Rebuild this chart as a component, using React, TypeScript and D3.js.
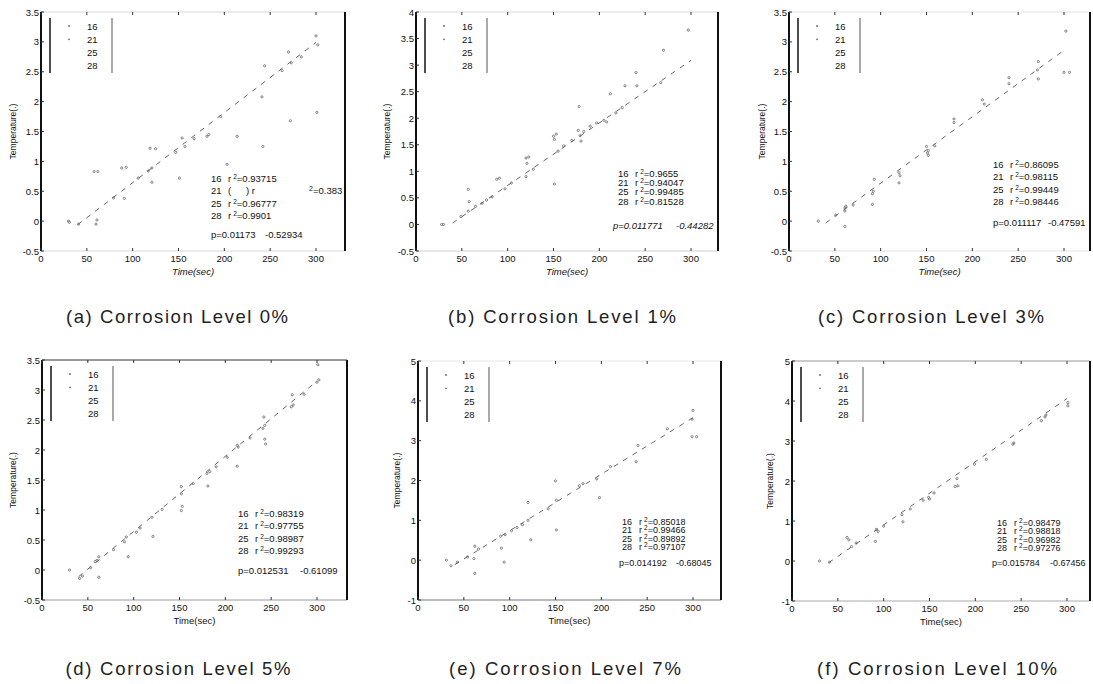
import React from "react";
import * as d3 from "d3";

// ---------------- DATA ----------------
const timeTicks = [0, 50, 100, 150, 200, 250, 300];
const captions = [
  "(a) Corrosion Level 0%",
  "(b) Corrosion Level 1%",
  "(c) Corrosion Level 3%",
  "(d) Corrosion Level 5%",
  "(e) Corrosion Level 7%",
  "(f) Corrosion Level 10%",
];
const xLabels = ["Time(sec)", "Time(sec)", "Time(sec)", "Time(sec)", "Time(sec)", "Time(sec)"];
const yLabel = "Temperature(.)";
const yMins = [-0.5, -0.5, -0.5, -0.5, -1, -1];
const yMaxs = [3.5, 4, 3.5, 3.5, 5, 5];
const ySteps = [0.5, 0.5, 0.5, 0.5, 1, 1];
const legendLabels = ["16", "21", "25", "28"];
const r2Values = [
  ["0.93715", "0.383", "0.96777", "0.9901"],
  ["0.9655", "0.94047", "0.99485", "0.81528"],
  ["0.86095", "0.98115", "0.99449", "0.98446"],
  ["0.98319", "0.97755", "0.98987", "0.99293"],
  ["0.85018", "0.99466", "0.89892", "0.97107"],
  ["0.98479", "0.98818", "0.96982", "0.97276"],
];
const slopes = ["0.01173", "0.011771", "0.011117", "0.012531", "0.014192", "0.015784"];
const intercepts = ["-0.52934", "-0.44282", "-0.47591", "-0.61099", "-0.68045", "-0.67456"];

const pointsA = [
  [30, 0], [31, -0.02], [41, -0.05], [61, 0.02], [60, -0.05], [58, 0.83], [62, 0.83],
  [79, 0.39], [91, 0.38], [88, 0.89], [93, 0.9], [106, 0.72], [117, 0.84], [121, 0.89],
  [119, 1.22], [125, 1.21], [121, 0.65], [151, 0.72], [147, 1.15], [157, 1.25], [154, 1.39],
  [167, 1.38], [181, 1.42], [183, 1.45], [196, 1.75], [203, 0.95], [214, 1.42], [241, 2.08],
  [242, 1.25], [244, 2.6], [263, 2.52], [270, 2.83], [273, 2.65], [272, 1.68], [284, 2.75],
  [300, 3.1], [302, 2.95], [301, 1.82],
];
const pointsB = [
  [28, 0], [30, 0], [49, 0.15], [57, 0.66], [58, 0.43], [57, 0.25], [65, 0.34], [72, 0.4],
  [77, 0.46], [83, 0.52], [88, 0.85], [91, 0.87], [97, 0.67], [104, 0.78], [120, 0.9],
  [120, 1.25], [123, 1.27], [121, 1.15], [128, 1.04], [150, 1.66], [153, 1.7], [151, 1.6],
  [151, 0.76], [155, 1.38], [161, 1.48], [170, 1.58], [177, 1.77], [179, 1.67], [180, 1.57],
  [183, 1.75], [178, 2.22], [190, 1.85], [197, 1.91], [205, 1.96], [208, 1.93], [212, 2.46],
  [218, 2.1], [225, 2.2], [228, 2.61], [241, 2.61], [240, 2.86], [267, 2.67], [270, 3.28],
  [297, 3.66],
];
const pointsC = [
  [32, 0], [51, 0.1], [61, 0.17], [61, 0.22], [62, 0.25], [70, 0.27], [61, -0.09], [91, 0.28],
  [92, 0.5], [91, 0.46], [93, 0.7], [120, 0.81], [120, 0.64], [121, 0.76], [150, 1.25],
  [151, 1.14], [152, 1.18], [152, 1.1], [159, 1.26], [180, 1.71], [180, 1.65], [211, 2.03],
  [213, 1.96], [240, 2.4], [240, 2.3], [272, 2.67], [271, 2.53], [272, 2.38], [300, 2.49],
  [306, 2.49], [302, 3.18],
];
const pointsD = [
  [30, 0], [41, -0.14], [44, -0.1], [53, 0.04], [60, 0.16], [62, 0.22], [58, 0.14], [62, -0.12],
  [78, 0.34], [90, 0.47], [92, 0.55], [94, 0.22], [103, 0.63], [107, 0.7], [120, 0.88],
  [121, 0.56], [131, 1.01], [152, 0.99], [153, 1.06], [152, 1.39], [152, 1.27], [165, 1.44],
  [180, 1.61], [183, 1.64], [181, 1.4], [190, 1.72], [202, 1.88], [213, 2.08], [214, 2.05],
  [213, 1.73], [227, 2.2], [241, 2.36], [243, 2.41], [242, 2.55], [244, 2.1], [243, 2.18],
  [273, 2.92], [274, 2.75], [272, 2.72], [286, 2.93], [302, 3.17], [300, 3.13], [301, 3.42],
];
const pointsE = [
  [31, 0], [36, -0.14], [43, -0.05], [54, 0.08], [61, 0.04], [62, 0.35], [66, 0.28], [62, -0.33],
  [90, 0.6], [95, 0.64], [91, 0.3], [94, -0.05], [102, 0.74], [108, 0.82], [114, 0.89],
  [120, 1.0], [120, 1.45], [123, 0.51], [142, 1.29], [150, 1.99], [151, 1.5], [151, 0.76],
  [176, 1.87], [180, 1.92], [195, 2.04], [198, 1.57], [210, 2.35], [238, 2.47], [240, 2.88],
  [272, 3.3], [299, 3.54], [300, 3.76], [299, 3.1], [304, 3.1],
];
const pointsF = [
  [30, 0], [41, -0.03], [60, 0.59], [62, 0.53], [65, 0.36], [70, 0.45], [91, 0.49], [92, 0.79],
  [94, 0.74], [100, 0.87], [120, 1.16], [121, 0.98], [129, 1.3], [143, 1.52], [149, 1.59],
  [150, 1.55], [155, 1.7], [180, 2.06], [181, 1.88], [178, 1.86], [199, 2.42], [212, 2.54],
  [241, 2.92], [242, 2.95], [272, 3.51], [276, 3.6], [277, 3.65], [301, 3.96], [301, 3.88],
];
const panelPoints = [pointsA, pointsB, pointsC, pointsD, pointsE, pointsF];

// ---------------- LAYOUT ----------------
const W = 1093;
const H = 684;
const layout = [
  { x0: 41, x1: 345, y0: 12, y1: 251, ylx: 13, ax: 170, ay: 166, dy: 12.5, fs: 9.5, py: 222, pfs: 9.5, pax: 170, bx: 224, capX: 177, capY: 323, capW: 222, italic: true, pItalic: false, top: "#d8d8d8", bot: "#d8d8d8" },
  { x0: 416, x1: 718, y0: 12, y1: 251, ylx: 387, ax: 202, ay: 161, dy: 9.4, fs: 9.5, py: 213, pfs: 9.5, pax: 197, bx: 260, capX: 562, capY: 323, capW: 228, italic: true, pItalic: true, top: "#d8d8d8", bot: "#cfcfcf" },
  { x0: 789, x1: 1090, y0: 12, y1: 251, ylx: 762, ax: 204, ay: 152, dy: 12.5, fs: 9.5, py: 210, pfs: 9.5, pax: 204, bx: 259, capX: 931, capY: 323, capW: 226, italic: true, pItalic: false, top: "#e2e2e2", bot: "#e2e2e2" },
  { x0: 42, x1: 347, y0: 360, y1: 600, ylx: 13, ax: 196, ay: 153, dy: 12.5, fs: 9.5, py: 210, pfs: 9.5, pax: 196, bx: 258, capX: 178, capY: 675, capW: 225, italic: false, pItalic: false, top: "#333", bot: "#999" },
  { x0: 418, x1: 721, y0: 361, y1: 600, ylx: 397, ax: 204, ay: 160, dy: 8.6, fs: 9, py: 201, pfs: 9, pax: 201, bx: 258, capX: 565, capY: 675, capW: 232, italic: false, pItalic: false, top: "#e6e6e6", bot: "#777" },
  { x0: 792, x1: 1090, y0: 361, y1: 601, ylx: 770, ax: 205, ay: 161, dy: 8.6, fs: 9, py: 201, pfs: 9, pax: 200, bx: 258, capX: 937, capY: 675, capW: 240, italic: false, pItalic: false, top: "#999", bot: "#aaa" },
];

const FONT = "'Liberation Sans', Arial, sans-serif";

function Panel({ i }: { i: number }) {
  const L = layout[i];
  const x = d3.scaleLinear().domain([0, 300]).range([L.x0, L.x0 + 275]);
  const y = d3.scaleLinear().domain([yMins[i], yMaxs[i]]).range([L.y1, L.y0]);
  const yTicks = d3.range(yMins[i], yMaxs[i] + ySteps[i] / 2, ySteps[i]).map((v) => +v.toFixed(2));
  const pts = panelPoints[i];
  const slope = +slopes[i];
  const icpt = +intercepts[i];
  const fitX = [40, 300];
  const line = d3
    .line<number>()
    .x((t) => x(t))
    .y((t) => y(slope * t + icpt));
  const legTop = L.y0 + 6;
  const legBot = L.y0 + 61;
  const yMid = (L.y0 + L.y1) / 2;
  const fs = L.fs;
  return (
    <g fontFamily={FONT} fill="#111">
      {/* frame */}
      <line x1={L.x0} x2={L.x1} y1={L.y0} y2={L.y0} stroke={L.top} strokeWidth={1} />
      <line x1={L.x0} x2={L.x1} y1={L.y1} y2={L.y1} stroke={L.bot} strokeWidth={1} />
      <line x1={L.x0} x2={L.x0} y1={L.y0} y2={L.y1} stroke="#111" strokeWidth={2} />
      <line x1={L.x1} x2={L.x1} y1={L.y0} y2={L.y1} stroke="#111" strokeWidth={2} />
      {/* x ticks */}
      {timeTicks.map((t) => (
        <g key={"xt" + t}>
          <line x1={x(t)} x2={x(t)} y1={L.y1} y2={L.y1 - 3} stroke="#333" strokeWidth={1} />
          <line x1={x(t)} x2={x(t)} y1={L.y0} y2={L.y0 + 3} stroke="#333" strokeWidth={1} />
          <text x={x(t)} y={L.y1 + 11} fontSize={9.5} textAnchor="middle">
            {t}
          </text>
        </g>
      ))}
      {/* y ticks */}
      {yTicks.map((v) => (
        <g key={"yt" + v}>
          <line x1={L.x0} x2={L.x0 + 3} y1={y(v)} y2={y(v)} stroke="#333" strokeWidth={1} />
          <text x={L.x0 - 2} y={y(v) + 3.5} fontSize={9.5} textAnchor="end">
            {String(v)}
          </text>
        </g>
      ))}
      {/* axis labels */}
      <text
        x={L.ylx}
        y={yMid}
        fontSize={8.5}
        textAnchor="middle"
        dominantBaseline="central"
        transform={`rotate(-90 ${L.ylx} ${yMid})`}
      >
        {yLabel}
      </text>
      <text
        x={(L.x0 + L.x1) / 2}
        y={L.y1 + 24}
        fontSize={9.5}
        textAnchor="middle"
        fontStyle={L.italic ? "italic" : "normal"}
      >
        {xLabels[i]}
      </text>
      {/* fit line */}
      <path d={line(fitX) || ""} fill="none" stroke="#666" strokeWidth={1} strokeDasharray="5 6" />
      {/* points */}
      {pts.map((p, k) => (
        <circle key={"p" + k} cx={x(p[0])} cy={y(p[1])} r={1.1} fill="none" stroke="#666" strokeWidth={0.8} />
      ))}
      {/* legend */}
      <line x1={L.x0 + 9} x2={L.x0 + 9} y1={legTop} y2={legBot} stroke="#222" strokeWidth={1.6} />
      <line x1={L.x0 + 71} x2={L.x0 + 71} y1={legTop} y2={legBot} stroke="#555" strokeWidth={1} />
      {legendLabels.map((lab, k) => (
        <g key={"lg" + k}>
          {k < 2 && <circle cx={L.x0 + 28} cy={L.y0 + 14 + k * 13.3} r={0.9} fill="#666" />}
          <text x={L.x0 + 46} y={L.y0 + 17.5 + k * 13.3} fontSize={9.5}>
            {lab}
          </text>
        </g>
      ))}
      {/* r^2 annotations */}
      {legendLabels.map((lab, k) => {
        const tx = L.x0 + L.ax;
        const ty = L.y0 + L.ay + k * L.dy + 3.5;
        if (i === 0 && k === 1) {
          return (
            <g key={"an" + k}>
              <text x={tx} y={ty} fontSize={fs}>
                {lab}
                <tspan x={tx + 17}>(</tspan>
                <tspan x={tx + 35}>) r</tspan>
              </text>
              <text x={L.x1 - 36} y={ty} fontSize={fs}>
                <tspan fontSize={7} dy={-3.5}>2</tspan>
                <tspan dy={3.5}>{"=" + r2Values[i][k]}</tspan>
              </text>
            </g>
          );
        }
        return (
          <text key={"an" + k} x={tx} y={ty} fontSize={fs}>
            {lab}
            <tspan x={tx + 17}>r</tspan>
            <tspan fontSize={6.5} dx={2} dy={-3}>2</tspan>
            <tspan dy={3}>{"=" + r2Values[i][k]}</tspan>
          </text>
        );
      })}
      <text x={L.x0 + L.pax} y={L.y0 + L.py + 3.5} fontSize={L.pfs} fontStyle={L.pItalic ? "italic" : "normal"}>
        {"p=" + slopes[i]}
      </text>
      <text x={L.x0 + L.bx} y={L.y0 + L.py + 3.5} fontSize={L.pfs} fontStyle={L.pItalic ? "italic" : "normal"}>
        {intercepts[i]}
      </text>
      {/* caption */}
      <text
        x={L.capX}
        y={L.capY}
        fontSize={18.5}
        textAnchor="middle"
        textLength={L.capW}
        lengthAdjust="spacing"
        fill="#222"
      >
        {captions[i]}
      </text>
    </g>
  );
}

export default function App() {
  return (
    <svg
      width={W}
      height={H}
      viewBox={`0 0 ${W} ${H}`}
      style={{ position: "absolute", left: 0, top: 0, background: "#fff" }}
    >
      <rect x={0} y={0} width={W} height={H} fill="#fff" />
      {captions.map((_, i) => (
        <Panel key={i} i={i} />
      ))}
    </svg>
  );
}
